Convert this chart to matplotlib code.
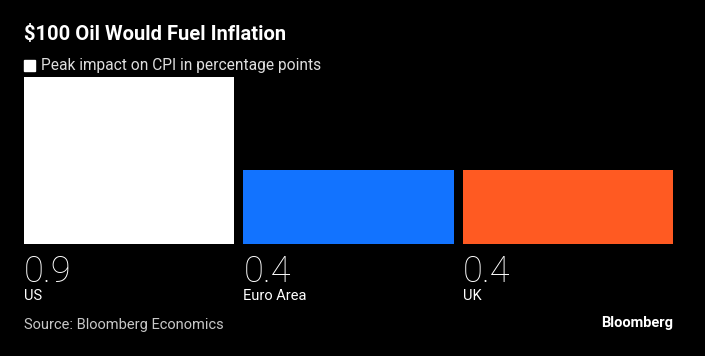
import matplotlib.pyplot as plt

# data
countries = ["US", "Euro Area", "UK"]
impact = [0.9, 0.4, 0.4]
value_labels = ["0.9", "0.4", "0.4"]
bar_colors = ["#ffffff", "#1273ff", "#ff5a22"]

W, H = 705, 356
fig = plt.figure(figsize=(W / 100, H / 100), dpi=100, facecolor="black")
plt.rcParams["font.family"] = ["Roboto", "DejaVu Sans"]

# axes placed in pixel coords
left, right, top, bottom = 24, 673, 77, 244
ax = fig.add_axes([left / W, 1 - bottom / H, (right - left) / W, (bottom - top) / H])
ax.set_facecolor("black")

slot = (right - left + 9) / 3
width = (slot - 9) / slot
xs = list(range(len(countries)))
ax.bar(xs, impact, width=width, color=bar_colors)
ax.set_xlim(-width / 2, 2 + width / 2)
ax.set_ylim(0, 0.9)
ax.axis("off")

for x, v, c in zip(xs, value_labels, countries):
    xl = x - width / 2
    ax.text(xl, -0.06, v, transform=ax.get_xaxis_transform(), color="white",
            fontsize=26, fontweight="light", va="top", ha="left")
    ax.text(xl, -0.27, c, transform=ax.get_xaxis_transform(), color="white",
            fontsize=10.5, va="top", ha="left")

# titles
fig.text(24 / W, 1 - 40 / H, "$100 Oil Would Fuel Inflation", color="white",
         fontsize=14.5, fontweight="bold", ha="left", va="baseline")
fig.patches.append(plt.Rectangle((24 / W, 1 - 71 / H), 11 / W, 11 / H,
                                 transform=fig.transFigure, color="white"))
fig.text(41 / W, 1 - 70 / H, "Peak impact on CPI in percentage points",
         color="#dddddd", fontsize=11.2, ha="left", va="baseline")

# footer
fig.text(24 / W, 1 - 329 / H, "Source: Bloomberg Economics", color="#c8c8c8",
         fontsize=10.5, ha="left", va="baseline")
fig.text(673 / W, 1 - 327 / H, "Bloomberg", color="white", fontsize=10.5,
         fontweight="bold", ha="right", va="baseline")

fig.savefig("out.png", dpi=100, facecolor="black")
